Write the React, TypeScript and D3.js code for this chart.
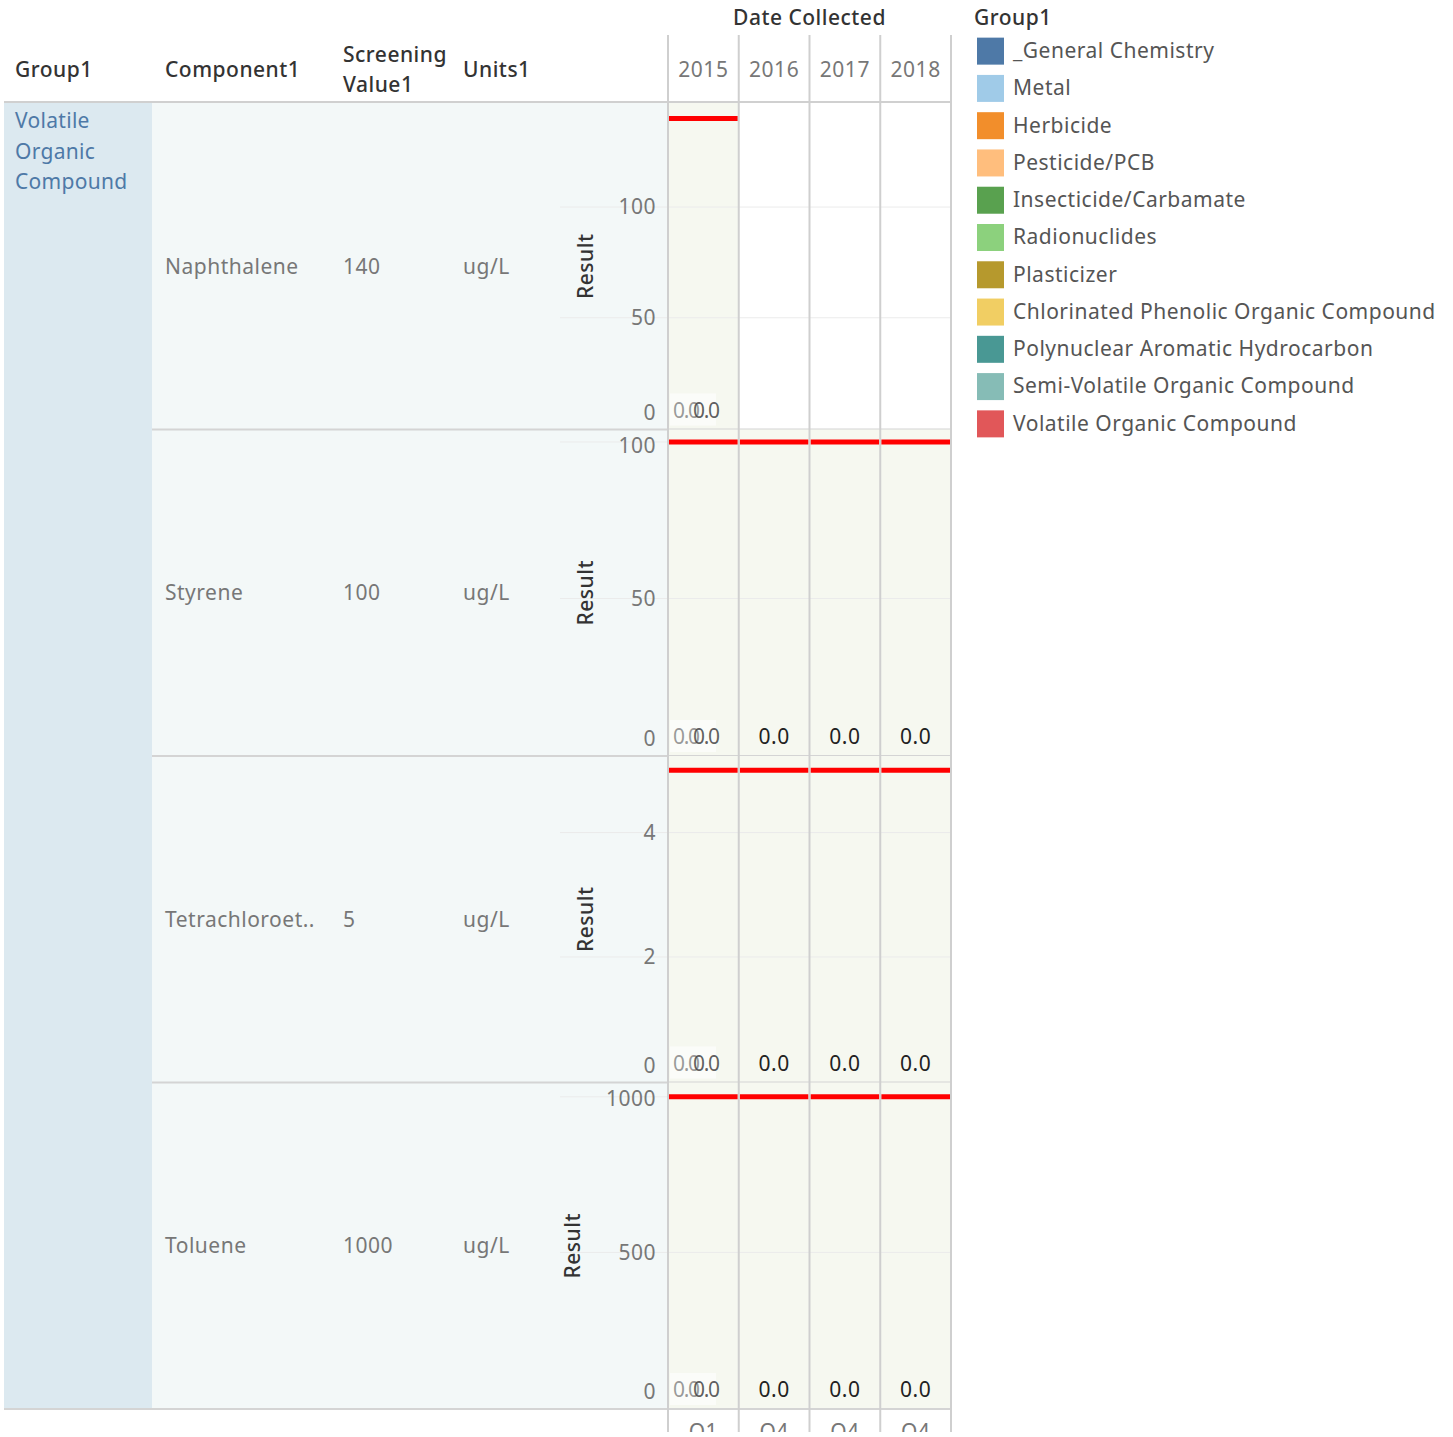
import React from 'react';
import * as d3 from 'd3';

const years = ['2015', '2016', '2017', '2018'];
const quarters = ['Q1', 'Q4', 'Q4', 'Q4'];
const groupName = 'Volatile Organic Compound';
const components = ['Naphthalene', 'Styrene', 'Tetrachloroet..', 'Toluene'];
const screeningValues = [140, 100, 5, 1000];
const units = ['ug/L', 'ug/L', 'ug/L', 'ug/L'];
const yMax = [147, 104, 5.23, 1046];
const yTicks = [[0, 50, 100], [0, 50, 100], [0, 2, 4], [0, 500, 1000]];
// results per component, per year (each year may hold several samples)
const results: number[][][] = [
  [[0, 0], [], [], []],
  [[0, 0], [0], [0], [0]],
  [[0, 0], [0], [0], [0]],
  [[0, 0], [0], [0], [0]],
];
const legendItems = [
  '_General Chemistry', 'Metal', 'Herbicide', 'Pesticide/PCB', 'Insecticide/Carbamate',
  'Radionuclides', 'Plasticizer', 'Chlorinated Phenolic Organic Compound',
  'Polynuclear Aromatic Hydrocarbon', 'Semi-Volatile Organic Compound', 'Volatile Organic Compound',
];
const legendColors = [
  '#4e79a7', '#a0cbe8', '#f28e2b', '#ffbe7d', '#59a14f', '#8cd17d',
  '#b6992d', '#f1ce63', '#499894', '#86bcb6', '#e15759',
];

const FONT = '"Noto Sans", sans-serif';
const W = 1453, H = 1437;
const plotLeft = 668, plotRight = 951;
const tableTop = 103, tableBottom = 1409;
const FS = 21;
const LS = 0.5;

export default function App() {
  const xBand = d3.scaleBand<string>().domain(years).range([plotLeft, plotRight]).paddingInner(0);
  const rowBand = d3.scaleBand<string>().domain(components).range([tableTop, tableBottom]).paddingInner(0);
  const legendY = d3.scaleBand<string>().domain(legendItems).range([32, 442]);
  const colBounds = [plotLeft, ...years.map((y) => (xBand(y) as number) + xBand.bandwidth())];

  return (
    <svg width={W} height={H} style={{ position: 'absolute', left: 0, top: 0, background: '#fff' }} fontFamily={FONT} letterSpacing={LS}>
      <defs>
        <clipPath id="bottomClip">
          <rect x={0} y={0} width={W} height={1432} />
        </clipPath>
      </defs>
      {/* group column */}
      <rect x={4} y={tableTop} width={148} height={tableBottom - tableTop} fill="#dce9f0" />
      <rect x={152} y={tableTop} width={plotLeft - 152} height={tableBottom - tableTop} fill="#f3f8f8" />
      {groupName.split(' ').map((w, i) => (
        <text key={w} x={15} y={128 + i * 30.5} fontSize={FS} fill="#4e79a7" letterSpacing={0.3}>{w}</text>
      ))}

      {/* headers */}
      <text x={15} y={77} fontSize={FS} fill="#333" fontWeight={500}>Group1</text>
      <text x={165} y={77} fontSize={FS} fill="#333" fontWeight={500}>Component1</text>
      <text x={343} y={62} fontSize={FS} fill="#333" fontWeight={500}>Screening</text>
      <text x={343} y={92} fontSize={FS} fill="#333" fontWeight={500}>Value1</text>
      <text x={463} y={77} fontSize={FS} fill="#333" fontWeight={500}>Units1</text>
      <text x={(plotLeft + plotRight) / 2} y={25} fontSize={FS} fill="#333" fontWeight={500} textAnchor="middle">Date Collected</text>
      {years.map((y) => (
        <text key={y} x={(xBand(y) as number) + xBand.bandwidth() / 2} y={77} fontSize={FS} fill="#777" textAnchor="middle">{y}</text>
      ))}

      {/* rows */}
      {components.map((c, ri) => {
        const top = rowBand(c) as number;
        const bottom = top + rowBand.bandwidth();
        const ys = d3.scaleLinear().domain([0, yMax[ri]]).range([bottom - 1, top]);
        const mid = (top + bottom) / 2;
        return (
          <g key={c}>
            {years.map((yr, yi) => (
              <rect key={yr} x={xBand(yr)} y={top} width={xBand.bandwidth()} height={bottom - top}
                fill={results[ri][yi].length > 0 ? '#f6f8f0' : '#ffffff'} />
            ))}
            {yTicks[ri].filter((t) => t > 0).map((t) => (
              <line key={t} x1={560} x2={plotRight} y1={ys(t)} y2={ys(t)} stroke="#ebebeb" strokeWidth={1} />
            ))}
            {yTicks[ri].map((t) => {
              const cy = Math.max(top + 16, Math.min(bottom - 17, ys(t)));
              return (
                <text key={t} x={656} y={cy} dy="0.35em" fontSize={FS} fill="#777" textAnchor="end">{t}</text>
              );
            })}
            <text transform={`translate(${ri === 3 ? 580 : 593},${mid}) rotate(-90)`} fontSize={FS} fill="#333" textAnchor="middle" fontWeight={500}>Result</text>
            <text x={165} y={mid} dy="0.35em" fontSize={FS} fill="#777">{c}</text>
            <text x={343} y={mid} dy="0.35em" fontSize={FS} fill="#777">{screeningValues[ri]}</text>
            <text x={463} y={mid} dy="0.35em" fontSize={FS} fill="#777">{units[ri]}</text>
            {years.map((yr, yi) => {
              const vals = results[ri][yi];
              if (vals.length === 0) return null;
              const x0 = xBand(yr) as number;
              const cx = x0 + xBand.bandwidth() / 2;
              const ly = ys(0) - 18;
              return (
                <g key={yr}>
                  <line x1={x0 + 1} x2={x0 + xBand.bandwidth() - 1} y1={ys(screeningValues[ri])} y2={ys(screeningValues[ri])} stroke="#ff0000" strokeWidth={5} />
                  {vals.length > 1 ? (
                    <g>
                      <rect x={x0 + 2} y={ly - 17} width={46} height={32} fill="#fbfcf9" />
                      {vals.map((v, k) => (
                        <text key={k} x={x0 + 5 + k * 20} y={ys(v) - 18} dy="0.35em" fontSize={FS} letterSpacing={-1.3}
                          fill={k === vals.length - 1 ? '#444' : '#888'} fillOpacity={0.85}>{v.toFixed(1)}</text>
                      ))}
                    </g>
                  ) : (
                    <text x={cx} y={ly} dy="0.35em" fontSize={FS} fill="#222" textAnchor="middle">{vals[0].toFixed(1)}</text>
                  )}
                </g>
              );
            })}
            <line x1={152} x2={plotRight} y1={bottom} y2={bottom} stroke="#d4d4d4" strokeWidth={2} />
          </g>
        );
      })}

      {/* lines */}
      <line x1={4} x2={plotRight} y1={102} y2={102} stroke="#d0d0d0" strokeWidth={2} />
      <line x1={4} x2={plotRight} y1={tableBottom} y2={tableBottom} stroke="#d4d4d4" strokeWidth={2} />
      {colBounds.map((x, i) => (
        <line key={i} x1={x} x2={x} y1={35} y2={1432} stroke="#cfcfcf" strokeWidth={2} />
      ))}
      <g clipPath="url(#bottomClip)">
        {years.map((y, i) => (
          <text key={y} x={(xBand(y) as number) + xBand.bandwidth() / 2} y={1439} fontSize={FS} fill="#777" textAnchor="middle">{quarters[i]}</text>
        ))}
      </g>

      {/* legend */}
      <text x={974} y={25} fontSize={FS} fill="#333" fontWeight={500}>Group1</text>
      {legendItems.map((l, i) => {
        const cy = (legendY(l) as number) + legendY.bandwidth() / 2;
        return (
          <g key={l}>
            <rect x={977} y={cy - 13} width={27} height={27} fill={legendColors[i]} />
            <text x={1013} y={cy} dy="0.35em" fontSize={FS} fill="#555">{l}</text>
          </g>
        );
      })}
    </svg>
  );
}
